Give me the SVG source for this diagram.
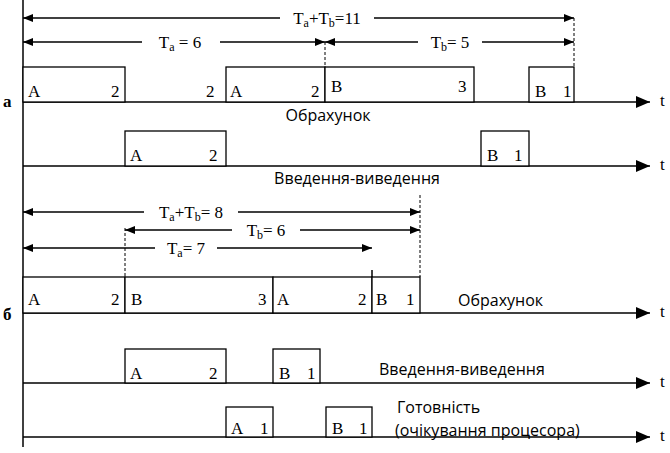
<svg xmlns="http://www.w3.org/2000/svg" width="670" height="453" viewBox="0 0 670 453">
<style>
.ln{stroke:#000;stroke-width:1.5;fill:none}
.bx{stroke:#000;stroke-width:1.3;fill:#fff}
.ds{stroke:#000;stroke-width:1;stroke-dasharray:3,2;fill:none}
.s{font-family:"Liberation Serif",serif;font-size:17px;fill:#000}
.u{font-family:"Open Sans","Noto Sans",sans-serif;font-size:16px;font-weight:500;fill:#000}
.w{fill:#fff;stroke:none}
</style>
<defs>
<marker id="ar" markerWidth="10" markerHeight="8" refX="10" refY="4" orient="auto-start-reverse" markerUnits="userSpaceOnUse"><path d="M0,0L10,4L0,8z" fill="#000"/></marker>
<marker id="ax" markerWidth="14" markerHeight="12" refX="14" refY="6" orient="auto" markerUnits="userSpaceOnUse"><path d="M0,0L14,6L0,12z" fill="#000"/></marker>
</defs>
<g id="axes">
<line class="ln" x1="23" y1="0" x2="23" y2="447"/>
<line class="ln" x1="23" y1="102" x2="650" y2="102" marker-end="url(#ax)"/>
<line class="ln" x1="23" y1="166" x2="650" y2="166" marker-end="url(#ax)"/>
<line class="ln" x1="23" y1="313" x2="650" y2="313" marker-end="url(#ax)"/>
<line class="ln" x1="23" y1="383" x2="650" y2="383" marker-end="url(#ax)"/>
<line class="ln" x1="23" y1="437" x2="650" y2="437" marker-end="url(#ax)"/>
<text class="s" x="660" y="106">t</text><text class="s" x="660" y="170">t</text><text class="s" x="660" y="317">t</text><text class="s" x="660" y="387">t</text><text class="s" x="660" y="441">t</text>
<text class="s" x="3" y="107" font-weight="bold">а</text>
<text class="s" x="3" y="320" font-weight="bold">б</text>
</g>
<g id="connectors">
<line class="ds" x1="325" y1="42" x2="325" y2="67"/>
<line class="ds" x1="574" y1="18" x2="574" y2="67"/>
<line class="ds" x1="420" y1="195" x2="420" y2="277"/>
<line class="ds" x1="125" y1="228" x2="125" y2="277"/>
<line class="ln" x1="23" y1="18" x2="574" y2="18" marker-start="url(#ar)" marker-end="url(#ar)"/>
<line class="ln" x1="23" y1="42" x2="325" y2="42" marker-start="url(#ar)" marker-end="url(#ar)"/>
<line class="ln" x1="325" y1="42" x2="574" y2="42" marker-start="url(#ar)" marker-end="url(#ar)"/>
<line class="ln" x1="23" y1="212" x2="420" y2="212" marker-start="url(#ar)" marker-end="url(#ar)"/>
<line class="ln" x1="125" y1="230" x2="420" y2="230" marker-start="url(#ar)" marker-end="url(#ar)"/>
<line class="ln" x1="23" y1="248" x2="372" y2="248" marker-start="url(#ar)" marker-end="url(#ar)"/>
<rect class="w" x="280" y="8" width="94" height="18"/>
<text class="s" x="327" y="24" text-anchor="middle">T<tspan font-size="12" dy="3">a</tspan><tspan dy="-3">+T</tspan><tspan font-size="12" dy="3">b</tspan><tspan dy="-3">=11</tspan></text>
<rect class="w" x="142" y="32" width="78" height="18"/>
<text class="s" x="180" y="48" text-anchor="middle">T<tspan font-size="12" dy="3">a</tspan><tspan dy="-3"> = 6</tspan></text>
<rect class="w" x="418" y="32" width="64" height="18"/>
<text class="s" x="450" y="48" text-anchor="middle">T<tspan font-size="12" dy="3">b</tspan><tspan dy="-3">= 5</tspan></text>
<rect class="w" x="144" y="202" width="94" height="18"/>
<text class="s" x="191" y="218" text-anchor="middle">T<tspan font-size="12" dy="3">a</tspan><tspan dy="-3">+T</tspan><tspan font-size="12" dy="3">b</tspan><tspan dy="-3">= 8</tspan></text>
<rect class="w" x="232" y="221" width="68" height="18"/>
<text class="s" x="266" y="236" text-anchor="middle">T<tspan font-size="12" dy="3">b</tspan><tspan dy="-3">= 6</tspan></text>
<rect class="w" x="155" y="239" width="62" height="18"/>
<text class="s" x="186" y="254" text-anchor="middle">T<tspan font-size="12" dy="3">a</tspan><tspan dy="-3">= 7</tspan></text>
</g>
<g id="a-calc">
<rect class="bx" x="23" y="67" width="102" height="35"/><text class="s" x="28" y="97">A</text><text class="s" x="111" y="97">2</text>
<text class="s" x="206" y="97">2</text>
<rect class="bx" x="226" y="67" width="99" height="35"/><text class="s" x="230" y="97">A</text><text class="s" x="311" y="97">2</text>
<rect class="bx" x="325" y="67" width="149" height="35"/><text class="s" x="331" y="92">B</text><text class="s" x="458" y="92">3</text>
<rect class="bx" x="529" y="67" width="45" height="35"/><text class="s" x="535" y="97">B</text><text class="s" x="563" y="97">1</text>
<text class="u" x="328" y="121" text-anchor="middle">Обрахунок</text>
</g>
<g id="a-io">
<rect class="bx" x="125" y="131" width="101" height="35"/><text class="s" x="130" y="161">A</text><text class="s" x="209" y="161">2</text>
<rect class="bx" x="481" y="131" width="48" height="35"/><text class="s" x="487" y="161">B</text><text class="s" x="514" y="161">1</text>
<text class="u" x="357" y="184" text-anchor="middle">Введення-виведення</text>
</g>
<g id="b-calc">
<rect class="bx" x="23" y="277" width="102" height="36"/><text class="s" x="28" y="305">A</text><text class="s" x="111" y="305">2</text>
<rect class="bx" x="125" y="277" width="148" height="36"/><text class="s" x="131" y="305">B</text><text class="s" x="258" y="305">3</text>
<rect class="bx" x="273" y="277" width="99" height="36"/><text class="s" x="277" y="305">A</text><text class="s" x="358" y="305">2</text>
<rect class="bx" x="372" y="277" width="48" height="36"/><text class="s" x="376" y="305">B</text><text class="s" x="406" y="305">1</text>
<line class="ln" x1="372" y1="270" x2="372" y2="277"/>
<text class="u" x="458" y="306">Обрахунок</text>
</g>
<g id="b-io">
<rect class="bx" x="125" y="349" width="101" height="34"/><text class="s" x="130" y="379">A</text><text class="s" x="209" y="379">2</text>
<rect class="bx" x="273" y="349" width="47" height="34"/><text class="s" x="279" y="379">B</text><text class="s" x="307" y="379">1</text>
<text class="u" x="379" y="375">Введення-виведення</text>
</g>
<g id="b-ready">
<rect class="bx" x="226" y="407" width="47" height="30"/><text class="s" x="231" y="434">A</text><text class="s" x="260" y="434">1</text>
<rect class="bx" x="326" y="407" width="46" height="30"/><text class="s" x="332" y="434">B</text><text class="s" x="359" y="434">1</text>
<text class="u" x="397" y="413" font-size="15">Готовність</text>
<text class="u" x="395" y="436" font-size="15">(очікування процесора)</text>
</g>
</svg>
